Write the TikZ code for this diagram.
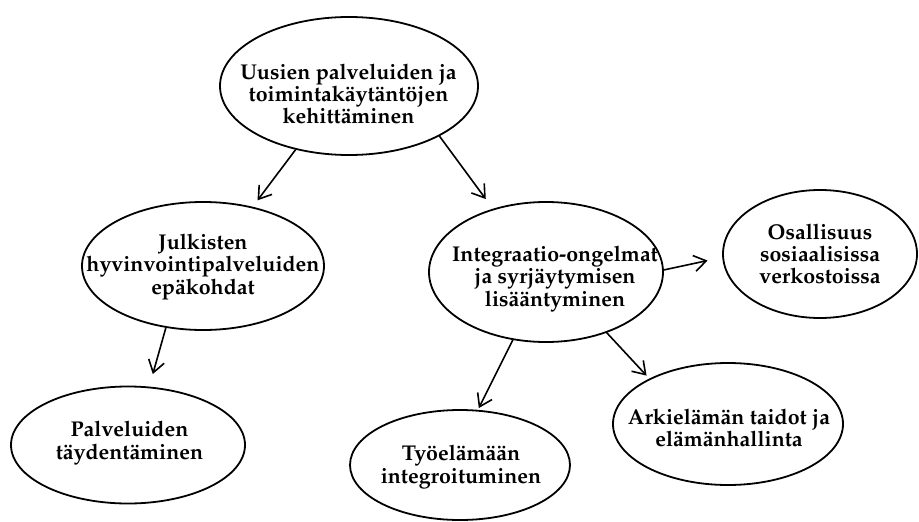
\documentclass[tikz,border=0pt]{standalone}
\usepackage[T1]{fontenc}
\usepackage{mathpazo}
\usetikzlibrary{shapes.geometric,arrows.meta}
\begin{document}
\begin{tikzpicture}[x=1pt,y=-1pt,
  bub/.style={ellipse, draw, line width=1.8pt, inner sep=0pt},
  lbl/.style={align=center, font=\fontsize{21.4}{22.3}\selectfont\bfseries, inner sep=0pt},
  arr/.style={-{Straight Barb[length=12pt,width=16pt]}, line width=1.6pt}]
\useasboundingbox (0,0) rectangle (919,522);
% ellipses
\node[bub, minimum width=258pt, minimum height=138pt] (top) at (349,86) {};
\node[bub, minimum width=242pt, minimum height=128pt] (julk) at (203,266) {};
\node[bub, minimum width=234pt, minimum height=117pt] (palv) at (128,445) {};
\node[bub, minimum width=234pt, minimum height=140pt] (integ) at (546,272) {};
\node[bub, minimum width=194pt, minimum height=128pt] (osal) at (820,254) {};
\node[bub, minimum width=230pt, minimum height=122pt] (ark) at (728,424) {};
\node[bub, minimum width=220pt, minimum height=110pt] (tyo) at (460,465) {};
% texts
\node[lbl] (topT) at (348.5,94) {Uusien palveluiden ja\\toimintak\"ayt\"ant\"ojen\\kehitt\"aminen};
\node[lbl] (julkT) at (203,267) {Julkisten\\hyvinvointipalveluiden\\ep\"akohdat};
\node[lbl] (palvT) at (129.5,443) {Palveluiden\\t\"aydent\"aminen};
\node[lbl] (integT) at (555,279) {Integraatio-ongelmat\\ja syrj\"aytymisen\\lis\"a\"antyminen};
\node[lbl] (osalT) at (820,254) {Osallisuus\\sosiaalisissa\\verkostoissa};
\node[lbl] (arkT) at (729,428) {Arkiel\"am\"an taidot ja\\el\"am\"anhallinta};
\node[lbl] (tyoT) at (461,467) {Ty\"oel\"am\"a\"an\\integroituminen};
% arrows
\draw[arr, shorten >=8pt] (top.230) -- (julk.50);
\draw[arr, shorten >=12pt] (top.331) -- (integ.130);
\draw[arr, shorten >=13pt] (julk.239) -- (palv.70);
\draw[arr, shorten >=15pt] (integ.1) -- (osal.182);
\draw[arr, shorten >=2pt] (integ.244) -- (tyo.72);
\draw[arr, shorten >=4pt] (integ.315) -- (ark.150);
\end{tikzpicture}
\end{document}
